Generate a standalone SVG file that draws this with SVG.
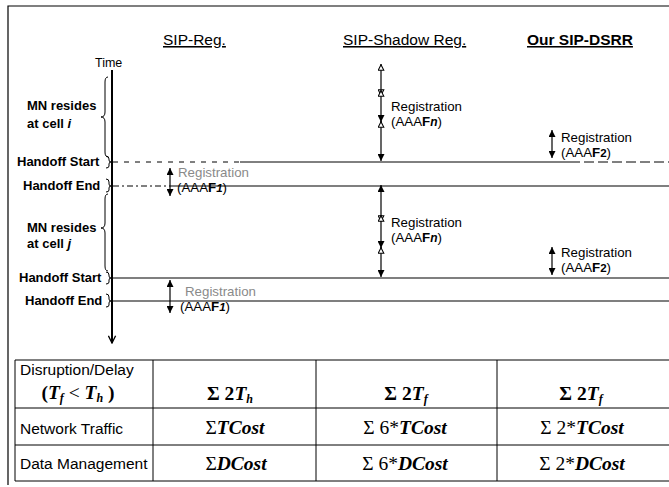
<svg xmlns="http://www.w3.org/2000/svg" width="669" height="487" viewBox="0 0 669 487">
<defs>
<style>
.sans{font-family:"Liberation Sans",Arial,sans-serif;fill:#000}
.hdr{font-size:15.5px}
.lbl{font-size:13px;font-weight:bold}
.reg{font-size:13.3px}
.gray{fill:#8a8a8a}
.tsans{font-size:15.5px}
.serif{font-family:"Liberation Serif","Times New Roman",serif;font-weight:bold;font-style:italic;font-size:19.5px;fill:#000}
.up{font-style:normal}
.ln{stroke:#000;fill:none}
.brace{stroke:#000;fill:none;stroke-width:1}
.tbl{stroke:#000;stroke-width:1;fill:none}
</style>
<marker id="af" viewBox="0 0 10 10" refX="10" refY="5" markerWidth="7" markerHeight="7" markerUnits="userSpaceOnUse" orient="auto-start-reverse">
<path d="M0,0 L10,5 L0,10 z" fill="#000"/>
</marker>
<marker id="ao" viewBox="0 0 10 10" refX="10" refY="5" markerWidth="7" markerHeight="7" markerUnits="userSpaceOnUse" orient="auto-start-reverse">
<path d="M1,1 L9,5 L1,9 z" fill="#fff" stroke="#000" stroke-width="1.5"/>
</marker>
<marker id="av" viewBox="0 0 10 10" refX="9" refY="5" markerWidth="9" markerHeight="9" markerUnits="userSpaceOnUse" orient="auto">
<path d="M1,1 L9,5 L1,9" fill="none" stroke="#000" stroke-width="1.5"/>
</marker>
</defs>
<rect width="669" height="487" fill="#fff"/>
<!-- frame -->
<path d="M8,485 L8,6 L669,6" class="ln" stroke-width="1.2"/>

<!-- headers -->
<g id="headers">
<text class="sans hdr" x="163" y="45" text-decoration="underline">SIP-Reg.</text>
<text class="sans hdr" x="343" y="45" text-decoration="underline">SIP-Shadow Reg.</text>
<text class="sans hdr" x="527" y="45" font-weight="bold" text-decoration="underline">Our SIP-DSRR</text>
</g>

<!-- time axis -->
<g id="time-axis">
<text class="sans" x="95" y="67" font-size="12.5">Time</text>
<line x1="112" y1="70" x2="112" y2="343" class="ln" stroke-width="2" marker-end="url(#av)"/>
</g>

<!-- left labels & braces -->
<g id="cell-i">
<text class="sans lbl" x="27" y="110">MN resides</text>
<text class="sans lbl" x="27" y="128">at cell <tspan font-style="italic">i</tspan></text>
<path class="brace" d="M108,77 Q105,77 105,82 L105,112 Q105,117 101,117 Q105,117 105,122 L105,152 Q105,157 108,157"/>
</g>
<g id="handoff-start-1">
<text class="sans lbl" x="17" y="166">Handoff Start</text>
<path class="brace" d="M106,156 Q109,156 109,159 L109,160 Q109,162 111,162 Q109,162 109,164 L109,166 Q109,168 106,168"/>
</g>
<g id="handoff-end-1">
<text class="sans lbl" x="23" y="190">Handoff End</text>
<path class="brace" d="M106,179 Q109,179 109,182 L109,184 Q109,186 111,186 Q109,186 109,188 L109,190 Q109,192 106,192"/>
</g>
<g id="cell-j">
<text class="sans lbl" x="27" y="232">MN resides</text>
<text class="sans lbl" x="27" y="248">at cell <tspan font-style="italic">j</tspan></text>
<path class="brace" d="M108,194 Q105,194 105,199 L105,223 Q105,228 101,228 Q105,228 105,233 L105,266 Q105,271 108,271"/>
</g>
<g id="handoff-start-2">
<text class="sans lbl" x="19" y="282">Handoff Start</text>
<path class="brace" d="M106,272 Q109,272 109,275 L109,276 Q109,278 111,278 Q109,278 109,280 L109,282 Q109,284 106,284"/>
</g>
<g id="handoff-end-2">
<text class="sans lbl" x="25" y="305">Handoff End</text>
<path class="brace" d="M106,294 Q109,294 109,297 L109,299 Q109,301 111,301 Q109,301 109,303 L109,305 Q109,307 106,307"/>
</g>

<!-- horizontal event lines -->
<g id="event-lines">
<line x1="113" y1="162" x2="240" y2="162" class="ln" stroke-width="1" stroke-dasharray="5,6"/>
<line x1="240" y1="162" x2="570" y2="162" class="ln" stroke-width="1"/>
<line x1="570" y1="162" x2="669" y2="162" class="ln" stroke-width="1" stroke-dasharray="10,4"/>
<line x1="113" y1="186" x2="170" y2="186" class="ln" stroke-width="1" stroke-dasharray="6,3,2,3"/>
<line x1="170" y1="186" x2="669" y2="186" class="ln" stroke-width="1.2"/>
<line x1="113" y1="278" x2="669" y2="278" class="ln" stroke-width="1.2"/>
<line x1="113" y1="301" x2="669" y2="301" class="ln" stroke-width="1.2"/>
</g>

<!-- SIP-Reg registrations -->
<g id="sipreg-reg1">
<line x1="170" y1="168" x2="170" y2="196" class="ln" stroke-width="1.2" marker-start="url(#af)" marker-end="url(#af)"/>
<text class="sans reg gray" x="178" y="177">Registration</text>
<text class="sans reg" x="177" y="192">(AAA<tspan font-weight="bold">F</tspan><tspan font-weight="bold" font-style="italic" font-size="11.5">1</tspan>)</text>
</g>
<g id="sipreg-reg2">
<line x1="170" y1="280" x2="170" y2="313" class="ln" stroke-width="1.2" marker-start="url(#af)" marker-end="url(#af)"/>
<text class="sans reg gray" x="185" y="296">Registration</text>
<text class="sans reg" x="180" y="311">(AAA<tspan font-weight="bold">F</tspan><tspan font-weight="bold" font-style="italic" font-size="11.5">1</tspan>)</text>
</g>

<!-- SIP-Shadow registrations -->
<g id="shadow-reg1">
<line x1="381" y1="64" x2="381" y2="96" class="ln" stroke-width="1.2" marker-start="url(#ao)" marker-end="url(#ao)"/>
<line x1="381" y1="90" x2="381" y2="122" class="ln" stroke-width="1.2" marker-start="url(#ao)" marker-end="url(#af)"/>
<line x1="381" y1="121" x2="381" y2="161" class="ln" stroke-width="1.2" marker-start="url(#ao)" marker-end="url(#af)"/>
<text class="sans reg" x="391" y="111">Registration</text>
<text class="sans reg" x="391" y="126">(AAA<tspan font-weight="bold">F</tspan><tspan font-weight="bold" font-style="italic" font-size="12">n</tspan>)</text>
</g>
<g id="shadow-reg2">
<line x1="381" y1="185" x2="381" y2="222" class="ln" stroke-width="1.2" marker-start="url(#af)" marker-end="url(#ao)"/>
<line x1="381" y1="215" x2="381" y2="248" class="ln" stroke-width="1.2" marker-start="url(#ao)" marker-end="url(#af)"/>
<line x1="381" y1="247" x2="381" y2="277" class="ln" stroke-width="1.2" marker-start="url(#ao)" marker-end="url(#af)"/>
<text class="sans reg" x="391" y="227">Registration</text>
<text class="sans reg" x="391" y="242">(AAA<tspan font-weight="bold">F</tspan><tspan font-weight="bold" font-style="italic" font-size="12">n</tspan>)</text>
</g>

<!-- DSRR registrations -->
<g id="dsrr-reg1">
<line x1="552" y1="130" x2="552" y2="158" class="ln" stroke-width="1.2" marker-start="url(#af)" marker-end="url(#af)"/>
<text class="sans reg" x="561" y="142">Registration</text>
<text class="sans reg" x="561" y="157">(AAA<tspan font-weight="bold">F</tspan><tspan font-weight="bold" font-size="11.5">2</tspan>)</text>
</g>
<g id="dsrr-reg2">
<line x1="552" y1="247" x2="552" y2="275" class="ln" stroke-width="1.2" marker-start="url(#af)" marker-end="url(#af)"/>
<text class="sans reg" x="561" y="257">Registration</text>
<text class="sans reg" x="561" y="272">(AAA<tspan font-weight="bold">F</tspan><tspan font-weight="bold" font-size="11.5">2</tspan>)</text>
</g>

<!-- comparison table -->
<g id="table">
<path class="tbl" d="M669,360 L15,360 L15,481 L669,481 M15,408 L669,408 M15,445 L669,445 M153,360 L153,481 M316,360 L316,481 M497,360 L497,481"/>
<text class="sans tsans" x="20" y="375">Disruption/Delay</text>
<text class="serif" x="78" y="399" text-anchor="middle"><tspan class="up">(</tspan>T<tspan font-size="12" dy="3">f</tspan><tspan dy="-3" class="up" font-weight="normal"> &lt; </tspan>T<tspan font-size="12" dy="3">h</tspan><tspan dy="-3" class="up"> )</tspan></text>
<text class="serif" x="230" y="400" text-anchor="middle"><tspan class="up">Σ 2</tspan>T<tspan font-size="12" dy="3">h</tspan></text>
<text class="serif" x="406" y="400" text-anchor="middle"><tspan class="up">Σ 2</tspan>T<tspan font-size="12" dy="3">f</tspan></text>
<text class="serif" x="581" y="400" text-anchor="middle"><tspan class="up">Σ 2</tspan>T<tspan font-size="12" dy="3">f</tspan></text>
<text class="sans tsans" x="20" y="434">Network Traffic</text>
<text class="serif" x="235" y="434" text-anchor="middle"><tspan class="up" font-weight="normal">Σ</tspan>TCost</text>
<text class="serif" x="405" y="434" text-anchor="middle"><tspan class="up" font-weight="normal">Σ 6*</tspan>TCost</text>
<text class="serif" x="582" y="434" text-anchor="middle"><tspan class="up" font-weight="normal">Σ 2*</tspan>TCost</text>
<text class="sans tsans" x="20" y="469">Data Management</text>
<text class="serif" x="236" y="470" text-anchor="middle"><tspan class="up" font-weight="normal">Σ</tspan>DCost</text>
<text class="serif" x="405" y="470" text-anchor="middle"><tspan class="up" font-weight="normal">Σ 6*</tspan>DCost</text>
<text class="serif" x="582" y="470" text-anchor="middle"><tspan class="up" font-weight="normal">Σ 2*</tspan>DCost</text>
</g>
</svg>
